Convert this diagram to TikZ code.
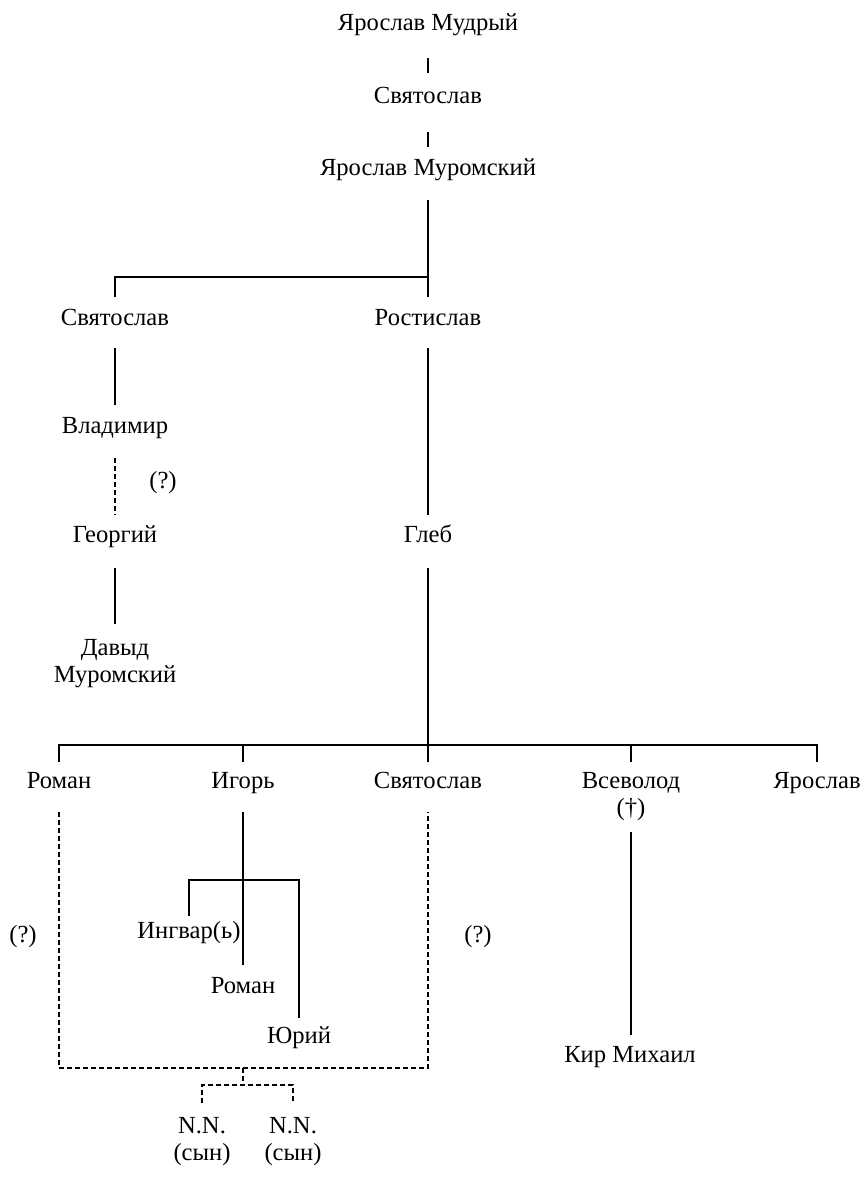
\documentclass[tikz,border=0pt]{standalone}
\usepackage{fontspec}
\setmainfont{Liberation Serif}
\usepackage{tikz}
\usetikzlibrary{calc}

\begin{document}
\begin{tikzpicture}[x=0.5pt,y=-0.5pt,
    nombre/.style={font=\fontsize{12.3}{14}\selectfont,inner sep=0pt,text height=8pt,text depth=2.5pt},
    nombre2/.style={font=\fontsize{12.3}{13.7}\selectfont,inner sep=0pt,align=center,anchor=north},
    linea/.style={line width=1pt},
    punt/.style={line width=1pt,dash pattern=on 2.5pt off 1.5pt}]
  \useasboundingbox (0,0) rectangle (865,1201);

  % linea principal
  \node[nombre] (mudry) at (428,25)  {Ярослав Мудрый};
  \node[nombre] (svy1)  at (428,98)  {Святослав};
  \node[nombre] (murom) at (428,170) {Ярослав Муромский};

  % hijos de Ярослав Муромский
  \node[nombre] (svy2) at (115,320) {Святослав};
  \node[nombre] (rost) at (428,320) {Ростислав};
  \node[nombre] (vlad) at (115,428) {Владимир};
  \node[nombre] (geor) at (115,537) {Георгий};
  \node[nombre2] (davyd) at (115,639) {Давыд\\Муромский};
  \node[nombre] (gleb) at (428,537) {Глеб};

  % hijos de Глеб
  \node[nombre] (roman)  at (59,783)  {Роман};
  \node[nombre] (igor)   at (243,783) {Игорь};
  \node[nombre] (svy3)   at (428,783) {Святослав};
  \node[nombre2] (vsev)  at (631,772) {Всеволод\\(†)};
  \node[nombre] (jarosl) at (817,783) {Ярослав};

  % nietos
  \node[nombre] (ingvar) at (189,933)  {Ингвар(ь)};
  \node[nombre] (roman2) at (243,988)  {Роман};
  \node[nombre] (jurij)  at (299,1038) {Юрий};
  \node[nombre] (kir)    at (630,1057) {Кир Михаил};
  \node[nombre2] (nn1)   at (202,1117) {N.N.\\(сын)};
  \node[nombre2] (nn2)   at (293,1117) {N.N.\\(сын)};

  % dudas
  \node[nombre] (q1) at (163,483) {(?)};
  \node[nombre] (q2) at (23,937)  {(?)};
  \node[nombre] (q3) at (478,937) {(?)};

  \draw[linea,shorten <=11.25pt,shorten >=7.25pt] (mudry) -- (svy1);
  \draw[linea,shorten <=11.75pt,shorten >=6.25pt] (svy1) -- (murom);
  \draw[linea,shorten <=9.75pt,shorten >=6.25pt] (murom) -- (rost);
  \coordinate (j1) at (428,277);
  \draw[linea] ([yshift=6.25pt]svy2.north) |- (j1);

  \draw[linea,shorten <=8.75pt,shorten >=6.25pt] (svy2) -- (vlad);
  \draw[punt,shorten <=9.75pt,shorten >=5.75pt] (vlad) -- (geor);
  \draw[linea,shorten <=10.25pt,shorten >=7.5pt] (geor) -- (davyd);
  \draw[linea,shorten <=8.75pt,shorten >=5.75pt] (rost) -- (gleb);

  \draw[linea,shorten <=10.25pt,shorten >=5.25pt] (gleb) -- (svy3);
  \coordinate (j2) at (428,745);
  \draw[linea] ([yshift=5.25pt]roman.north) |- (j2) -| ([yshift=5.25pt]jarosl.north);
  \draw[linea] ([yshift=5.25pt]igor.north) -- (igor.north |- j2);
  \draw[linea] ([yshift=5pt]vsev.north) -- (vsev.north |- j2);
  \draw[linea,shorten <=5pt,shorten >=5.75pt] (vsev.south) -- (vsev.south |- kir.north);

  % Игорь y sus hijos
  \draw[linea,shorten <=9.25pt,shorten >=6.25pt] (igor) -- (roman2);
  \coordinate (j4) at (243,880);
  \draw[linea] ([yshift=3.25pt]ingvar.north) |- (j4) -| ([yshift=4.75pt]jurij.north);

  % rama dudosa
  \coordinate (j3) at (243,1068);
  \draw[punt] ([yshift=-9.25pt]roman.south) |- (j3) -| ([yshift=-9.25pt]svy3.south);
  \coordinate (j5) at (243,1085);
  \draw[punt] (j3) -- (j5);
  \draw[punt] ([yshift=7pt]nn1.north) |- (j5) -| ([yshift=7pt]nn2.north);
\end{tikzpicture}
\end{document}
